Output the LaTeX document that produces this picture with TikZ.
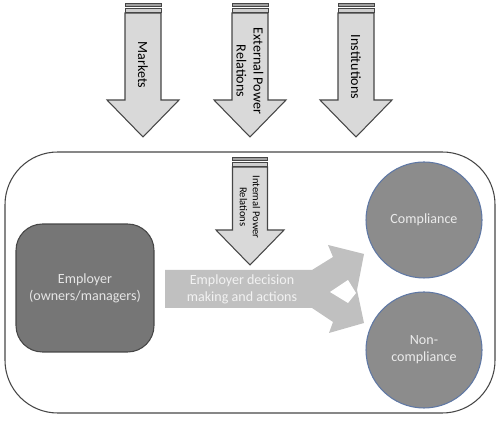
\documentclass[tikz,border=0pt]{standalone}
\usepackage{fontspec}
\setmainfont{Carlito}
\usepackage{tikz}
\definecolor{edgegray}{RGB}{70,70,70}
\definecolor{arrowfill}{RGB}{217,217,217}
\definecolor{barfill}{RGB}{160,160,160}
\definecolor{empfill}{RGB}{118,118,118}
\definecolor{flowfill}{RGB}{192,192,192}
\definecolor{circfill}{RGB}{140,140,140}
\definecolor{circedge}{RGB}{95,120,165}
\tikzset{blk/.style={draw=edgegray,fill=arrowfill,line width=0.6pt,line join=miter}}
\tikzset{bar/.style={draw=edgegray,fill=barfill,line width=0.5pt}}
\tikzset{lbl/.style={align=center,font=\fontsize{8}{9.6}\selectfont,text=black,inner sep=0pt}}
\tikzset{outc/.style={circle,draw=circedge,fill=circfill,line width=0.6pt,minimum size=2.32cm,inner sep=0pt,align=center,text=white!92!black,font=\fontsize{8}{9.8}\selectfont}}

\begin{document}
\begin{tikzpicture}[x=0.02cm,y=-0.02cm]
                \useasboundingbox (0,0) rectangle (500,421);
                % outside influences
                \foreach \cx/\cy/\txt/\nm in {143/65/Markets/mk, 250/71/{External Power\\Relations}/ep, 356/67/Institutions/inst}{
                    \draw[blk] (\cx-18,13) -- (\cx+18,13) -- (\cx+18,100) -- (\cx+36,100) -- (\cx,137) -- (\cx-36,100) -- (\cx-18,100) -- cycle;
                    \draw[bar] (\cx-18,3) rectangle (\cx+18,6.5);
                    \draw[bar,fill=arrowfill!80!barfill] (\cx-18,8) rectangle (\cx+18,12);
                    \node[lbl,rotate=-90] (\nm) at (\cx,\cy) {\txt};
                }
                % the firm
                \draw[draw=edgegray,line width=0.6pt,rounded corners=30] (5,152) rectangle (495,413);
                \draw[blk] (232.5,167) -- (267.5,167) -- (267.5,230) -- (284,230) -- (250,265) -- (216,230) -- (232.5,230) -- cycle;
                \draw[bar] (232.5,157) rectangle (267.5,160.5);
                \draw[bar,fill=arrowfill!80!barfill] (232.5,162) rectangle (267.5,166);
                \node[lbl,rotate=-90,font=\fontsize{6}{7.4}\selectfont] (ipr) at (250,207) {Internal Power\\Relations};
                \node[draw=edgegray,fill=empfill,line width=0.6pt,rounded corners=15,minimum width=2.76cm,minimum height=2.56cm,
                    align=center,text=white!90!black,font=\fontsize{8}{9.8}\selectfont] (emp) at (85,288) {Employer\\(owners/managers)};
                \fill[flowfill] (165,270) -- (312,270) -- (333,257) -- (328,245) -- (364,254) -- (357,290) -- (364,323)
                    -- (329,333) -- (333,322) -- (312,308) -- (165,308) -- cycle;
                \fill[white] (330,292) -- (348,280) -- (356,293) -- (348,303) -- cycle;
                \node[lbl,text=white!95!black,font=\fontsize{8}{9.8}\selectfont] (dec) at (242,289) {Employer decision\\making and actions};
                \node[outc] (comp) at (424,220) {Compliance};
                \node[outc] (noncomp) at (424,350) {Non-\\compliance};
            \end{tikzpicture}
\end{document}
